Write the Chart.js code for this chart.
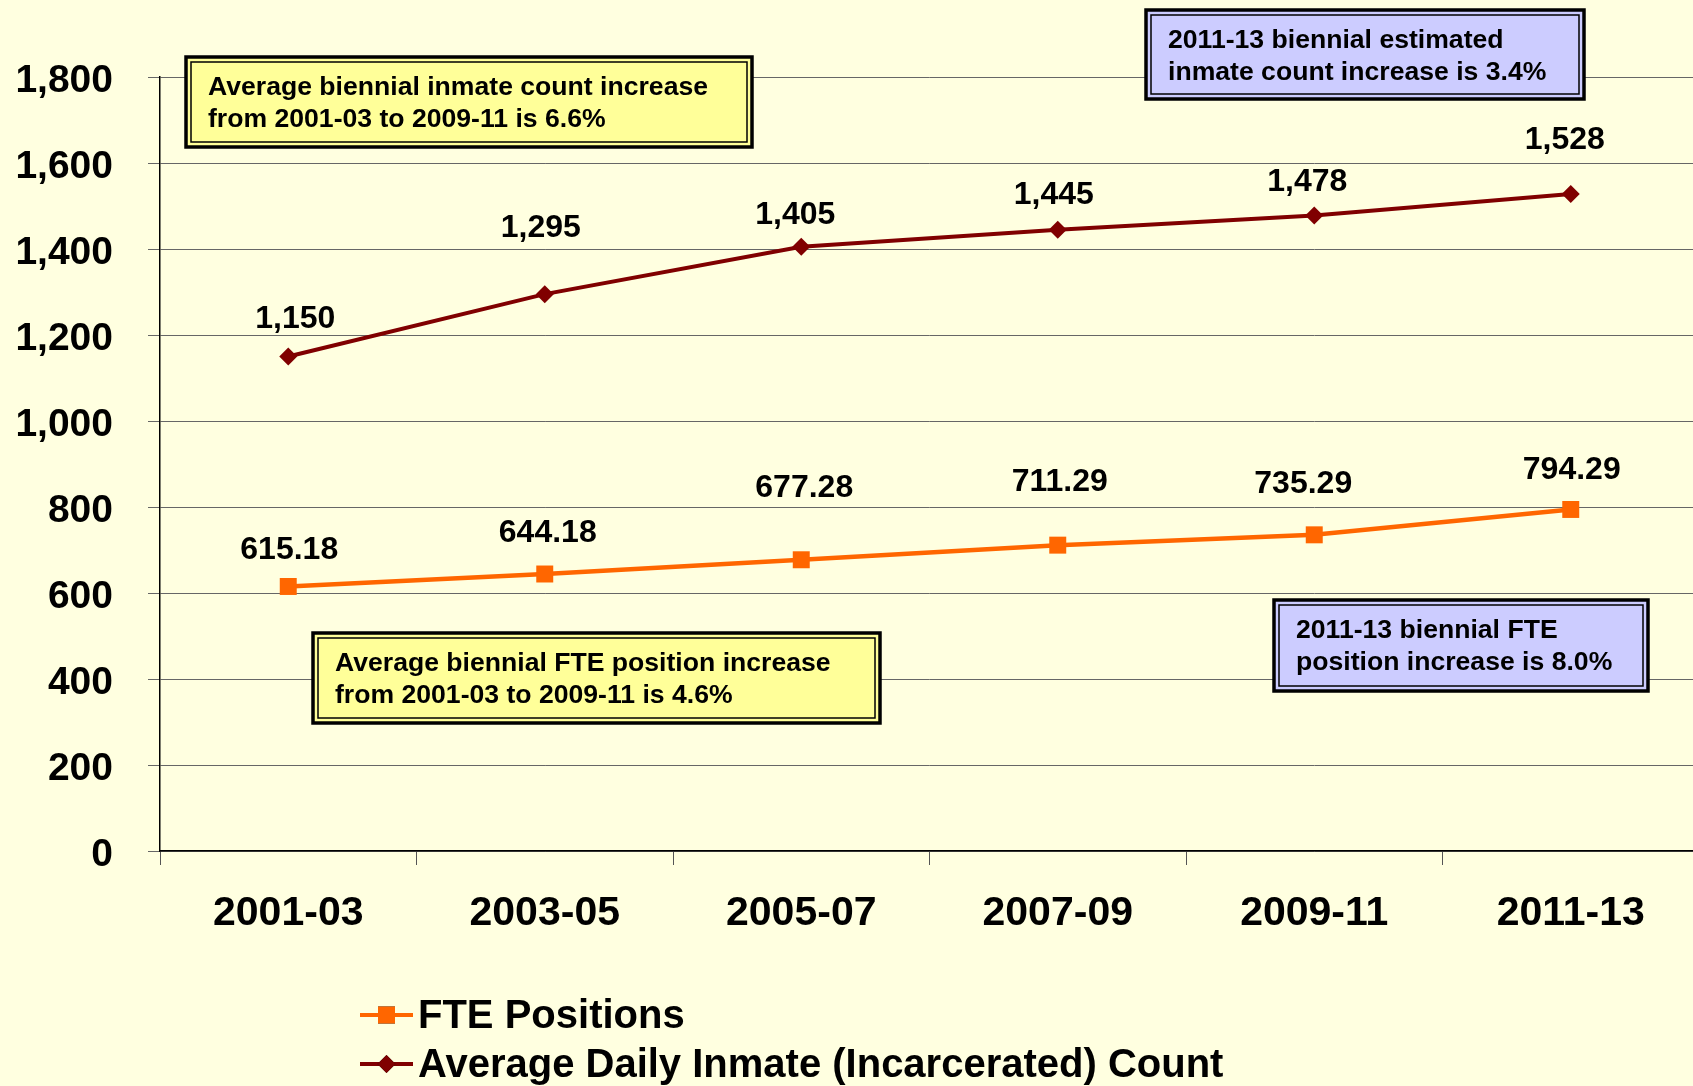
<!DOCTYPE html>
<html>
<head>
<meta charset="utf-8">
<script src="https://cdn.jsdelivr.net/npm/chart.js@4/dist/chart.umd.min.js"></script>
<style>
  html, body { margin: 0; padding: 0; background: #FFFFE0; overflow: hidden; }
  /* plot runs slightly past the right edge, as in the original slide */
  #wrap { width: 1699px; height: 1086px; position: relative; }
</style>
</head>
<body>
<div id="wrap"><canvas id="staffChart"></canvas></div>
<script>
// LINE CHART - FTE POSITIONS VS INMATE COUNT

const biennia = ['2001-03', '2003-05', '2005-07', '2007-09', '2009-11', '2011-13'];
const ftePositions = [615.18, 644.18, 677.28, 711.29, 735.29, 794.29];
const inmateCount = [1150, 1295, 1405, 1445, 1478, 1528];
const yTicks = [0, 200, 400, 600, 800, 1000, 1200, 1400, 1600, 1800];

// where each value label sits relative to its point (px: dx, lift)
const fteLabelShift = [[1, 38], [3, 43], [3, 74], [2, 65], [-11, 53], [1, 41]];
const inmateLabelShift = [[7, 39], [-4, 68], [-6, 34], [-4, 36], [-7, 35], [-6, 56]];

const notes = [
    { x: 186, y: 57, w: 566, h: 90, fill: '#FFFF99', lines: ['Average biennial inmate count increase', 'from 2001-03 to 2009-11 is 6.6%'] },
    { x: 1146, y: 10, w: 438, h: 89, fill: '#CCCCFF', lines: ['2011-13 biennial estimated', 'inmate count increase is 3.4%'] },
    { x: 313, y: 633, w: 567, h: 90, fill: '#FFFF99', lines: ['Average biennial FTE position increase', 'from 2001-03 to 2009-11 is 4.6%'] },
    { x: 1274, y: 600, w: 374, h: 91, fill: '#CCCCFF', lines: ['2011-13 biennial FTE', 'position increase is 8.0%'] }
];

const FONT = '"Liberation Sans", Arial, sans-serif';

const bgPlugin = {
    id: 'bg',
    beforeDraw(chart) {
        const c = chart.ctx;
        c.save();
        c.fillStyle = '#FFFFE0';
        c.fillRect(0, 0, chart.width, chart.height);
        c.restore();
    }
};

const valueLabels = {
    id: 'valueLabels',
    afterDatasetsDraw(chart) {
        const c = chart.ctx;
        const shifts = [fteLabelShift, inmateLabelShift];
        c.save();
        c.font = 'bold 32px ' + FONT;
        c.fillStyle = '#000';
        c.textAlign = 'center';
        c.textBaseline = 'middle';
        chart.data.datasets.forEach((ds, i) => {
            chart.getDatasetMeta(i).data.forEach((pt, j) => {
                const v = ds.data[j];
                const txt = i === 0 ? v.toFixed(2) : v.toLocaleString('en-US');
                c.fillText(txt, pt.x + shifts[i][j][0], pt.y - shifts[i][j][1] + 2);
            });
        });
        c.restore();
    }
};

const noteBoxes = {
    id: 'noteBoxes',
    afterDraw(chart) {
        const c = chart.ctx;
        c.save();
        notes.forEach(n => {
            c.fillStyle = n.fill;
            c.fillRect(n.x, n.y, n.w, n.h);
            c.strokeStyle = '#000';
            c.lineWidth = 3.5;
            c.strokeRect(n.x, n.y, n.w, n.h);
            c.lineWidth = 1.5;
            c.strokeRect(n.x + 5, n.y + 5, n.w - 10, n.h - 10);
            c.fillStyle = '#000';
            c.font = 'bold 26.6px ' + FONT;
            c.textAlign = 'left';
            c.textBaseline = 'middle';
            c.fillText(n.lines[0], n.x + 22, n.y + 31);
            c.fillText(n.lines[1], n.x + 22, n.y + 63);
        });
        c.restore();
    }
};

const stackedLegend = {
    id: 'stackedLegend',
    afterDraw(chart) {
        const c = chart.ctx;
        c.save();
        chart.data.datasets.forEach((ds, i) => {
            const y = 1015 + i * 49;
            c.strokeStyle = ds.borderColor;
            c.lineWidth = 4;
            c.beginPath();
            c.moveTo(360, y);
            c.lineTo(413, y);
            c.stroke();
            Chart.helpers.drawPoint(c, {
                pointStyle: ds.pointStyle,
                radius: ds.pointRadius,
                borderWidth: 0
            }, 386.5, y);
            c.fillStyle = ds.borderColor;
            c.fill();
            c.fillStyle = '#000';
            c.font = 'bold 40px ' + FONT;
            c.textAlign = 'left';
            c.textBaseline = 'middle';
            c.fillText(ds.label, 418, y + 2);
        });
        c.restore();
    }
};

const ctx = document.getElementById('staffChart');

new Chart(ctx, {
    type: 'line',
    data: {
        labels: biennia,
        datasets: [
            {
                label: 'FTE Positions',
                data: ftePositions,
                borderColor: '#FF6600',
                backgroundColor: '#FF6600',
                borderWidth: 4.5,
                pointStyle: 'rect',
                pointRadius: 12,
                pointBorderWidth: 0,
                tension: 0
            },
            {
                label: 'Average Daily Inmate (Incarcerated) Count',
                data: inmateCount,
                borderColor: '#800000',
                backgroundColor: '#800000',
                borderWidth: 4,
                pointStyle: 'rectRot',
                pointRadius: 9,
                pointBorderWidth: 0,
                tension: 0
            }
        ]
    },
    options: {
        responsive: true,
        maintainAspectRatio: false,
        animation: false,
        layout: {
            autoPadding: false,
            padding: { top: 77, right: 0, bottom: 152, left: 0 }
        },
        plugins: {
            legend: { display: false },
            tooltip: { enabled: false }
        },
        scales: {
            x: {
                offset: true,
                grid: {
                    offset: true,
                    drawOnChartArea: false,
                    drawTicks: true,
                    tickLength: 14,
                    color: '#555'
                },
                border: { color: '#000', width: 1.5 },
                ticks: {
                    color: '#000',
                    padding: 24,
                    maxRotation: 0,
                    autoSkip: false,
                    font: { family: FONT, size: 41, weight: 'bold' }
                },
                afterFit(scale) {
                    scale.height = 83;
                    scale.paddingLeft = 0;
                    scale.paddingRight = 0;
                }
            },
            y: {
                min: 0,
                max: 1800,
                afterBuildTicks(scale) {
                    scale.ticks = yTicks.map(v => ({ value: v }));
                },
                grid: {
                    color: '#666',
                    lineWidth: 1,
                    tickLength: 12
                },
                border: { color: '#000', width: 1.5 },
                ticks: {
                    color: '#000',
                    padding: 35,
                    labelOffset: 4,
                    font: { family: FONT, size: 39, weight: 'bold' },
                    callback: function(value) {
                        return value.toLocaleString('en-US');
                    }
                },
                afterFit(scale) {
                    scale.width = 160;
                    scale.paddingTop = 0;
                    scale.paddingBottom = 0;
                }
            }
        }
    },
    plugins: [bgPlugin, valueLabels, noteBoxes, stackedLegend]
});
</script>
</body>
</html>
